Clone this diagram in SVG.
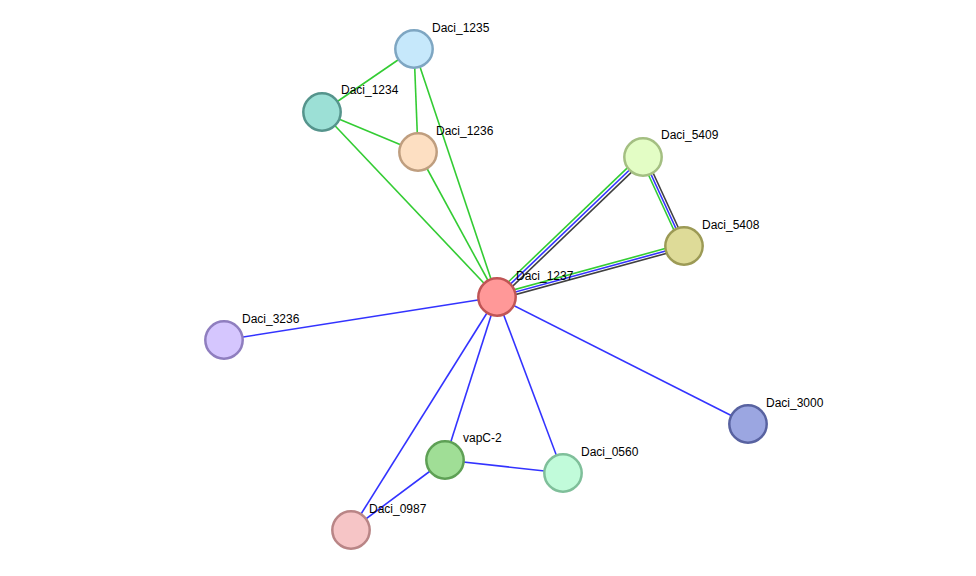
<svg xmlns="http://www.w3.org/2000/svg" width="976" height="576" viewBox="0 0 976 576">
<style>
.bg{fill:#ffffff}
.e{stroke-width:1.6;fill:none}
.g{stroke:#33cc33}
.b{stroke:#3333ff}
.k{stroke:#404040}
.n{stroke-width:2.5}
.t{font-family:"Liberation Sans",Arial,sans-serif;font-size:12px;fill:#000000}
</style>
<rect class="bg" x="0" y="0" width="976" height="576"/>
<g id="connectors">
<line class="e g" x1="414" y1="49" x2="322" y2="112"/>
<line class="e g" x1="414" y1="49" x2="418" y2="152"/>
<line class="e g" x1="414" y1="49" x2="497" y2="297"/>
<line class="e g" x1="322" y1="112" x2="418" y2="152"/>
<line class="e g" x1="322" y1="112" x2="497" y2="297"/>
<line class="e g" x1="418" y1="152" x2="497" y2="297"/>
<line class="e g" x1="494.9" y1="294.8" x2="640.9" y2="154.8"/>
<line class="e b" x1="497" y1="297" x2="643" y2="157"/>
<line class="e k" x1="499.1" y1="299.2" x2="645.1" y2="159.2"/>
<line class="e g" x1="496.3" y1="294.6" x2="683.3" y2="243.6"/>
<line class="e b" x1="497" y1="297" x2="684" y2="246"/>
<line class="e k" x1="497.7" y1="299.4" x2="684.7" y2="248.4"/>
<line class="e g" x1="640.7" y1="158" x2="681.7" y2="247"/>
<line class="e b" x1="643" y1="157" x2="684" y2="246"/>
<line class="e k" x1="645.3" y1="156" x2="686.3" y2="245"/>
<line class="e b" x1="497" y1="297" x2="224" y2="340"/>
<line class="e b" x1="497" y1="297" x2="748" y2="424"/>
<line class="e b" x1="497" y1="297" x2="445" y2="460"/>
<line class="e b" x1="497" y1="297" x2="563" y2="473"/>
<line class="e b" x1="497" y1="297" x2="351" y2="530"/>
<line class="e b" x1="445" y1="460" x2="563" y2="473"/>
<line class="e b" x1="445" y1="460" x2="351" y2="530"/>
</g>
<g id="Daci_1235"><circle class="n" cx="414" cy="49" r="18.7" fill="#c6e8fb" stroke="#7ea6c2"/><text class="t" x="432" y="32">Daci_1235</text></g>
<g id="Daci_1234"><circle class="n" cx="322" cy="112" r="18.7" fill="#9ce0d6" stroke="#55948c"/><text class="t" x="341" y="94">Daci_1234</text></g>
<g id="Daci_1236"><circle class="n" cx="418" cy="152" r="18.7" fill="#fddfc2" stroke="#bf9e7f"/><text class="t" x="436" y="135">Daci_1236</text></g>
<g id="Daci_5409"><circle class="n" cx="643" cy="157" r="18.7" fill="#e3fdc5" stroke="#a4bf82"/><text class="t" x="661" y="139">Daci_5409</text></g>
<g id="Daci_5408"><circle class="n" cx="684" cy="246" r="18.7" fill="#dedb98" stroke="#9c9a55"/><text class="t" x="702" y="229">Daci_5408</text></g>
<g id="Daci_1237"><circle class="n" cx="497" cy="297" r="18.7" fill="#ff9898" stroke="#c05555"/><text class="t" x="516" y="280">Daci_1237</text></g>
<g id="Daci_3236"><circle class="n" cx="224" cy="340" r="18.7" fill="#d5c6fe" stroke="#8f7ebf"/><text class="t" x="242" y="323">Daci_3236</text></g>
<g id="Daci_3000"><circle class="n" cx="748" cy="424" r="18.7" fill="#9ba6e1" stroke="#5862a0"/><text class="t" x="766" y="407">Daci_3000</text></g>
<g id="vapC-2"><circle class="n" cx="445" cy="460" r="18.7" fill="#a0de96" stroke="#5ea055"/><text class="t" x="463" y="442">vapC-2</text></g>
<g id="Daci_0560"><circle class="n" cx="563" cy="473" r="18.7" fill="#c1fbda" stroke="#7fbf9a"/><text class="t" x="581" y="456">Daci_0560</text></g>
<g id="Daci_0987"><circle class="n" cx="351" cy="530" r="18.7" fill="#f6c5c6" stroke="#b98586"/><text class="t" x="369" y="513">Daci_0987</text></g>
</svg>
